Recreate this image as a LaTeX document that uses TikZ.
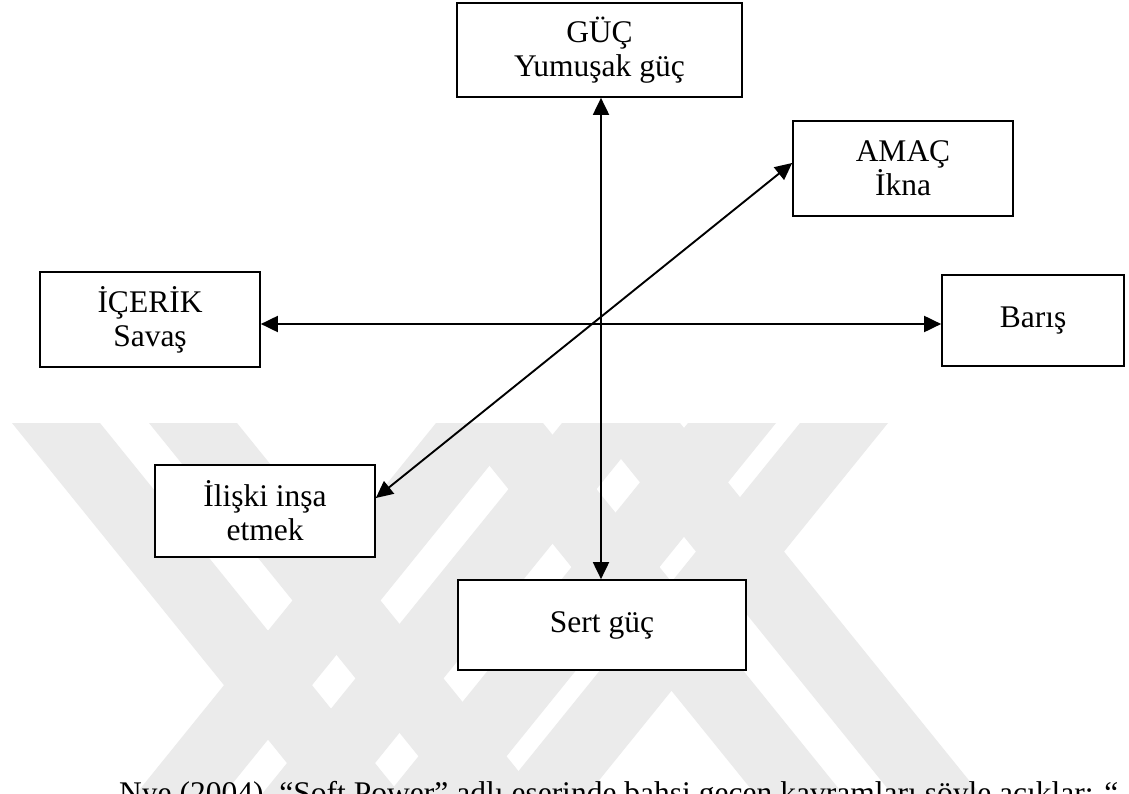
\documentclass[tikz,border=0pt]{standalone}
\usepackage{fontspec}
\setmainfont{Liberation Serif}
\usetikzlibrary{arrows.meta}
\begin{document}
\begin{tikzpicture}[x=1pt,y=-1pt,
  boxstyle/.style={draw=black,line width=1.7pt,fill=white,inner sep=0pt,align=center,
    font=\fontsize{31.5}{34}\selectfont},
  conn/.style={line width=1.9pt,{Triangle[length=17pt,width=16pt]}-{Triangle[length=17pt,width=16pt]}},
  wmark/.style={fill=black!8,draw=none}]
\useasboundingbox (0,0) rectangle (1129,794);
\clip (0,0) rectangle (1129,794);
\fill[white] (0,0) rectangle (1129,794);
% faint watermark bands
\foreach \a in {12,149,455,592}{
  \fill[wmark] (\a,423) -- ++(88,0) -- ++(300,371) -- ++(-88,0) -- cycle;}
\foreach \a in {436,562,688,800}{
  \fill[wmark] (\a,423) -- ++(88,0) -- ++(-300,371) -- ++(-88,0) -- cycle;}
% boxes
\node[boxstyle,minimum width=285pt,minimum height=94pt] (guc) at (599.5,50) {GÜÇ\\Yumuşak güç};
\node[boxstyle,minimum width=220pt,minimum height=95pt] (amac) at (903,168.5) {AMAÇ\\İkna};
\node[boxstyle,minimum width=220pt,minimum height=95pt] (icerik) at (150,319.5) {İÇERİK\\Savaş};
\node[boxstyle,minimum width=182pt,minimum height=91pt] (baris) at (1033,320.5) {Barış};
\node[boxstyle,minimum width=220pt,minimum height=92pt] (iliski) at (265,511) {İlişki inşa\\etmek};
\node[boxstyle,minimum width=288pt,minimum height=90pt] (sert) at (602,625) {Sert güç};
% connector helpers
\coordinate (vx) at (601,320);
\coordinate (hy) at (600,324);
\coordinate (d1) at (376,498);
\coordinate (d2) at (793,163);
\draw[conn] (guc.south -| vx) -- (sert.north -| vx);
\draw[conn] (icerik.east |- hy) -- (baris.west |- hy);
\draw[conn] (iliski.east |- d1) -- (amac.west |- d2);
% clipped caption line (cut by the page edge, as in the reference)
\node[anchor=base west,inner sep=0pt,font=\fontsize{31.5}{34}\selectfont] (cap) at (119,803)
  {\makebox[999pt][s]{Nye (2004), “Soft Power” adlı eserinde bahsi geçen kavramları şöyle açıklar: “}};
\end{tikzpicture}
\end{document}
